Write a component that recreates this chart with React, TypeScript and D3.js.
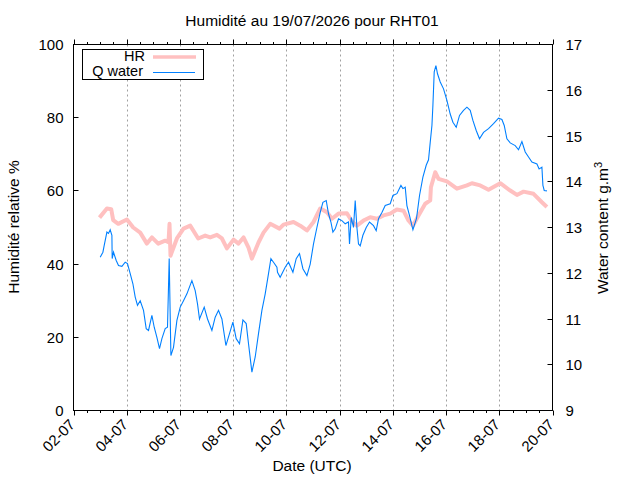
import React from "react";
import * as d3 from "d3";

// Relative humidity (%), day-of-July (fractional) positions
const hrDays = [
  2.977, 3.255, 3.417, 3.492, 3.68, 4.007, 4.244, 4.507, 4.758, 4.946, 5.183, 5.446, 5.57, 5.608, 5.645,
  5.886, 6.134, 6.386, 6.686, 6.949, 7.137, 7.389, 7.577, 7.765, 8.013, 8.201, 8.389, 8.577, 8.704,
  8.952, 9.14, 9.392, 9.741, 9.892, 10.267, 10.519, 10.771, 11.019, 11.271, 11.523, 11.711, 11.959,
  12.274, 12.462, 12.65, 12.898, 13.15, 13.402, 13.65, 13.902, 14.153, 14.401, 14.589, 14.755, 14.965,
  15.217, 15.405, 15.431, 15.593, 15.717, 16.032, 16.408, 16.784, 16.972, 17.284, 17.596, 18.036,
  18.412, 18.663, 18.911, 19.287, 19.602, 19.79,
];
const hrValues = [
  52.7, 55.2, 55, 52, 51, 52.2, 50, 48.6, 45.6, 47.3, 45.6, 46.4, 46, 51, 42.3,
  47, 49.7, 50.5, 47, 47.8, 47.3, 48, 47, 44.3, 46.7, 45.6, 47.3, 44.5, 41.5,
  45.9, 48.6, 51, 49.7, 50.8, 51.5, 50.5, 49.2, 51.5, 55.2, 54.2, 52.4, 53.8,
  53.9, 51.7, 50.5, 51.9, 52.8, 52.4, 53.3, 53.8, 54.9, 54.6, 51.9, 50.5, 53.3,
  56.5, 57.4, 61, 65.1, 63.3, 62.6, 60.6, 61.5, 62.1, 61.5, 60.3, 62.1,
  60.1, 58.9, 59.8, 59.2, 56.9, 55.6,
];

// Water content (g.m-3)
const qDays = [
  3.003, 3.105, 3.154, 3.255, 3.315, 3.379, 3.443, 3.454, 3.503, 3.605, 3.691, 3.819, 3.943, 4.029,
  4.131, 4.232, 4.319, 4.405, 4.507, 4.631, 4.732, 4.819, 4.946, 5.033, 5.134, 5.232, 5.322, 5.446,
  5.532, 5.57, 5.596, 5.66, 5.758, 5.886, 6.01, 6.134, 6.262, 6.449, 6.573, 6.66, 6.735, 6.912, 7.036,
  7.201, 7.325, 7.449, 7.577, 7.727, 7.862, 7.99, 8.114, 8.238, 8.366, 8.49, 8.577, 8.667, 8.704,
  8.828, 8.952, 9.08, 9.204, 9.328, 9.418, 9.516, 9.644, 9.666, 9.767, 9.955, 10.08, 10.245, 10.369,
  10.493, 10.621, 10.771, 10.895, 11.019, 11.147, 11.271, 11.372, 11.497, 11.583, 11.673, 11.748,
  11.835, 11.959, 12.086, 12.21, 12.334, 12.372, 12.436, 12.522, 12.586, 12.65, 12.71, 12.774, 12.875,
  13.0, 13.124, 13.274, 13.375, 13.462, 13.59, 13.714, 13.902, 14.003, 14.153, 14.304, 14.379, 14.465,
  14.529, 14.627, 14.755, 14.89, 15.003, 15.13, 15.254, 15.341, 15.405, 15.469, 15.506, 15.555, 15.619,
  15.679, 15.781, 15.905, 16.032, 16.156, 16.258, 16.382, 16.506, 16.656, 16.784, 16.908, 17.009,
  17.133, 17.257, 17.408, 17.596, 17.784, 17.972, 18.099, 18.186, 18.287, 18.411, 18.599, 18.723,
  18.851, 18.975, 19.099, 19.227, 19.415, 19.497, 19.602, 19.64, 19.689, 19.79,
];
const qValues = [
  12.35, 12.46, 12.61, 12.9, 12.87, 12.95, 12.83, 12.32, 12.46, 12.28, 12.17, 12.15, 12.24, 12.21,
  11.99, 11.77, 11.48, 11.3, 11.4, 11.19, 10.79, 10.75, 11.08, 10.82, 10.6, 10.35, 10.57, 10.79,
  10.82, 11.7, 12.32, 10.2, 10.38, 10.97, 11.26, 11.4, 11.55, 11.84, 11.62, 11.33, 11.0, 11.26, 11.0,
  10.75, 11.04, 11.19, 11.0, 10.42, 10.68, 10.93, 10.57, 10.46, 10.98, 10.9, 10.46, 10.02, 9.84,
  10.17, 10.68, 11.19, 11.55, 11.99, 12.32, 12.24, 12.13, 12.02, 11.91, 12.13, 12.24, 12.02, 12.32,
  12.43, 12.1, 11.95, 12.2, 12.64, 13.0, 13.33, 13.55, 13.59, 13.3, 13.12, 12.9,
  12.97, 13.19, 13.15, 13.08, 13.12, 12.64, 13.22, 13.0, 13.59, 13.0, 12.64, 12.6, 12.83,
  13.0, 13.12, 13.04, 12.93, 13.19, 13.33, 13.48, 13.52, 13.7, 13.74, 13.92, 13.85, 13.88,
  13.48, 13.26, 12.95, 13.2, 13.7, 14.1, 14.36, 14.48, 14.86, 15.23, 15.67, 16.4, 16.54,
  16.36, 16.18, 16.03, 15.78, 15.48, 15.3, 15.19, 15.45, 15.56, 15.63, 15.56, 15.34,
  15.12, 14.94, 15.08, 15.16, 15.27, 15.39, 15.36, 15.23, 14.94, 14.85, 14.79, 14.7,
  14.88, 14.65, 14.54, 14.43, 14.39, 14.28, 14.32, 13.92, 13.81, 13.8,
];

const xTickDays = [2, 4, 6, 8, 10, 12, 14, 16, 18, 20];
const yLeftTicks = [0, 20, 40, 60, 80, 100];
const yRightTicks = [9, 10, 11, 12, 13, 14, 15, 16, 17];

const titleText = "Humidité au 19/07/2026 pour RHT01";
const xLabel = "Date (UTC)";
const yLeftLabel = "Humidité relative %";
const legendHR = "HR";
const legendQ = "Q water";

const W = 640;
const H = 480;
const L = 73.5;
const R = 552.5;
const T = 44.5;
const B = 410.5;
const FONT = "'Liberation Sans', Arial, Helvetica, sans-serif";
const HR_COLOR = "#ffc0c0";
const Q_COLOR = "#0080ff";

const dayToDate = (d: number) => new Date(Date.UTC(2026, 6, 1) + (d - 1) * 86400000);

export default function App() {
  const x = d3.scaleUtc().domain([dayToDate(2), dayToDate(20)]).range([L, R]);
  const yL = d3.scaleLinear().domain([0, 100]).range([B, T]);
  const yR = d3.scaleLinear().domain([9, 17]).range([B, T]);
  const fmt = d3.utcFormat("%d-%m");

  const hrPts: [Date, number][] = hrDays.map((d, i) => [dayToDate(d), hrValues[i]]);
  const qPts: [Date, number][] = qDays.map((d, i) => [dayToDate(d), qValues[i]]);
  const hrLine = d3.line<[Date, number]>().x((p) => x(p[0])).y((p) => yL(p[1]));
  const qLine = d3.line<[Date, number]>().x((p) => x(p[0])).y((p) => yR(p[1]));

  const majorDates = xTickDays.map(dayToDate);
  const minorDates = x.ticks(d3.utcHour.every(12)!).filter(
    (t) => !majorDates.some((m) => m.getTime() === t.getTime())
  );
  const gridDates = majorDates.slice(1, -1);

  return (
    <div style={{ position: "absolute", left: 0, top: 0 }}>
      <svg width={W} height={H} style={{ display: "block", background: "#fff" }} fontFamily={FONT}>
        <defs>
          <clipPath id="plotclip">
            <rect x={L} y={T} width={R - L} height={B - T} />
          </clipPath>
        </defs>
        <rect x={0} y={0} width={W} height={H} fill="#fff" />
        {/* grid */}
        {gridDates.map((d, i) => (
          <line key={"g" + i} x1={Math.round(x(d)) + 0.5} x2={Math.round(x(d)) + 0.5} y1={T} y2={B}
            stroke="#a0a0a0" strokeWidth={1} strokeDasharray="2,3" />
        ))}
        {/* data */}
        <g clipPath="url(#plotclip)">
          <path d={hrLine(hrPts) || ""} fill="none" stroke={HR_COLOR} strokeWidth={4} strokeLinejoin="round" />
          <path d={qLine(qPts) || ""} fill="none" stroke={Q_COLOR} strokeWidth={1.1} />
        </g>
        {/* frame */}
        <rect x={L} y={T} width={R - L} height={B - T} fill="none" stroke="#000" strokeWidth={1} />
        {/* x ticks bottom & top (outward) */}
        {majorDates.map((d, i) => {
          const px = Math.round(x(d)) + 0.5;
          return (
            <g key={"xm" + i}>
              <line x1={px} x2={px} y1={B} y2={B + 5} stroke="#000" />
              <line x1={px} x2={px} y1={T} y2={T - 5} stroke="#000" />
              <text x={px + 1.5} y={B + 15} fontSize={15} textAnchor="end"
                transform={`rotate(-45 ${px + 1.5} ${B + 15})`}>{fmt(d)}</text>
            </g>
          );
        })}
        {minorDates.map((d, i) => {
          const px = Math.round(x(d)) + 0.5;
          return (
            <g key={"xn" + i}>
              <line x1={px} x2={px} y1={B} y2={B + 2.5} stroke="#000" />
              <line x1={px} x2={px} y1={T} y2={T - 2.5} stroke="#000" />
            </g>
          );
        })}
        {/* left y ticks (inward) */}
        {yLeftTicks.map((v, i) => {
          const py = Math.round(yL(v) - 0.5) + 0.5;
          return (
            <g key={"yl" + i}>
              <line x1={L} x2={L + 5} y1={py} y2={py} stroke="#000" />
              <text x={L - 10} y={py + 5} fontSize={15} textAnchor="end">{v}</text>
            </g>
          );
        })}
        {/* right y ticks (inward) */}
        {yRightTicks.map((v, i) => {
          const py = Math.round(yR(v) - 0.5) + 0.5;
          return (
            <g key={"yr" + i}>
              <line x1={R} x2={R - 5} y1={py} y2={py} stroke="#000" />
              <text x={R + 13} y={py + 5} fontSize={15} textAnchor="start">{v}</text>
            </g>
          );
        })}
        {/* title & axis labels */}
        <text x={312} y={25.5} fontSize={15.5} textAnchor="middle">{titleText}</text>
        <text x={312} y={471} fontSize={15.5} textAnchor="middle">{xLabel}</text>
        <text x={18.5} y={227} fontSize={15.5} textAnchor="middle" transform="rotate(-90 18.5 227)">{yLeftLabel}</text>
        <text x={608} y={228} fontSize={15.5} textAnchor="middle" transform="rotate(-90 608 228)">
          Water content g.m<tspan fontSize={11} dy={-6}>3</tspan>
        </text>
        {/* legend */}
        <rect x={82.5} y={49.5} width={121} height={30} fill="#fff" stroke="#000" strokeWidth={1} />
        <text x={145} y={61} fontSize={14.5} textAnchor="end">{legendHR}</text>
        <line x1={153} x2={196} y1={57} y2={57} stroke={HR_COLOR} strokeWidth={3.5} />
        <text x={143} y={76} fontSize={14.5} textAnchor="end">{legendQ}</text>
        <line x1={153} x2={195} y1={72.5} y2={72.5} stroke={Q_COLOR} strokeWidth={1.1} />
      </svg>
    </div>
  );
}
